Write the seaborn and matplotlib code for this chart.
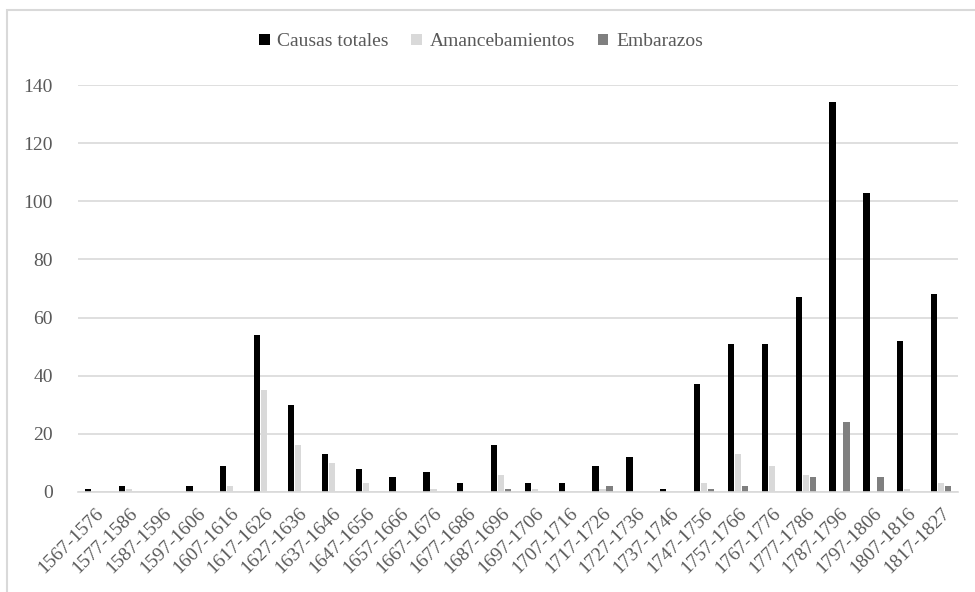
import matplotlib
matplotlib.use("Agg")
import matplotlib.pyplot as plt
import matplotlib.patches as mpatches
import seaborn as sns
import pandas as pd

periods = [
    "1567-1576", "1577-1586", "1587-1596", "1597-1606", "1607-1616", "1617-1626",
    "1627-1636", "1637-1646", "1647-1656", "1657-1666", "1667-1676", "1677-1686",
    "1687-1696", "1697-1706", "1707-1716", "1717-1726", "1727-1736", "1737-1746",
    "1747-1756", "1757-1766", "1767-1776", "1777-1786", "1787-1796", "1797-1806",
    "1807-1816", "1817-1827",
]
causas_totales = [1, 2, 0, 2, 9, 54, 30, 13, 8, 5, 7, 3, 16, 3, 3, 9, 12, 1,
                  37, 51, 51, 67, 134, 103, 52, 68]
amancebamientos = [0, 1, 0, 0, 2, 35, 16, 10, 3, 0, 1, 0, 6, 1, 0, 1, 0, 0,
                   3, 13, 9, 6, 0, 0, 1, 3]
embarazos = [0, 0, 0, 0, 0, 0, 0, 0, 0, 0, 0, 0, 1, 0, 0, 2, 0, 0,
             1, 2, 0, 5, 24, 5, 0, 2]
series_names = ["Causas totales", "Amancebamientos", "Embarazos"]
series_colors = ["#000000", "#d9d9d9", "#7f7f7f"]
y_ticks = [0, 20, 40, 60, 80, 100, 120, 140]

df = pd.DataFrame({
    "periodo": periods * 3,
    "serie": [series_names[0]] * len(periods) + [series_names[1]] * len(periods)
             + [series_names[2]] * len(periods),
    "valor": causas_totales + amancebamientos + embarazos,
})

sns.set_theme(style="white")
plt.rcParams["font.family"] = ["Liberation Serif", "DejaVu Serif"]
text_color = "#595959"
grid_color = "#d9d9d9"

fig = plt.figure(figsize=(9.75, 5.92), dpi=100)
ax = fig.add_axes([78 / 975, 1 - 492 / 592, 880 / 975, 407 / 592])

sns.barplot(data=df, x="periodo", y="valor", hue="serie", order=periods,
            hue_order=series_names, palette=series_colors, width=0.62, gap=0.1,
            saturation=1, linewidth=0, legend=False, ax=ax)

ax.set_xlim(-0.5, len(periods) - 0.5)
ax.set_ylim(0, 140)
ax.set_yticks(y_ticks)
ax.set_yticklabels([str(v) for v in y_ticks], color=text_color, fontsize=14)
ax.set_xticks(range(len(periods)))
ax.set_xticklabels(periods, rotation=45, ha="right", rotation_mode="anchor",
                   color=text_color, fontsize=14)
ax.tick_params(axis="both", length=0)
ax.tick_params(axis="y", pad=18)
ax.tick_params(axis="x", pad=9)
ax.set_xlabel("")
ax.set_ylabel("")
ax.yaxis.grid(True, color=grid_color, linewidth=1.2)
ax.set_axisbelow(True)
for side in ["top", "right", "left"]:
    ax.spines[side].set_visible(False)
ax.spines["bottom"].set_color(grid_color)
ax.spines["bottom"].set_linewidth(1.2)

handles = [mpatches.Patch(facecolor=c, edgecolor="none") for c in series_colors]
fig.legend(handles, series_names, loc="center", bbox_to_anchor=(481 / 975, 1 - 42 / 592),
           ncol=3, frameon=False, fontsize=14, labelcolor=text_color,
           handlelength=0.55, handleheight=0.55, handletextpad=0.4, columnspacing=1.15)

# outer chart frame
fig.add_artist(mpatches.Rectangle((7 / 975, -0.05), 1.1, 1 - 10 / 592 + 0.05,
                                  transform=fig.transFigure, fill=False,
                                  edgecolor=grid_color, linewidth=1.5))

fig.savefig("out.png", dpi=100)
